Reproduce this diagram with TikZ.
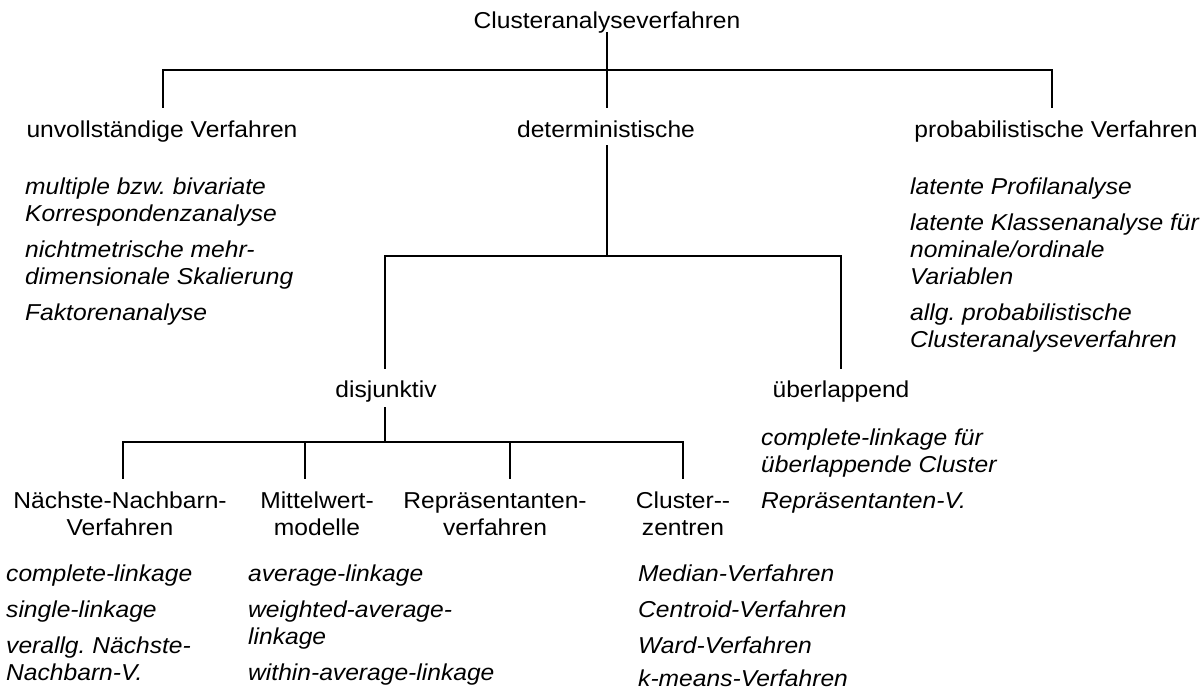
\documentclass[tikz,border=0pt]{standalone}
\usepackage{fontspec}
\setmainfont[FakeStretch=1.07]{Liberation Sans}
\newcommand{\sr}{\strut}
\frenchspacing
\begin{document}
\begin{tikzpicture}[x=1pt,y=-1pt,
  lab/.style={inner sep=0pt, font=\fontsize{23}{27}\selectfont, align=center},
  itm/.style={inner sep=0pt, font=\fontsize{23}{27}\selectfont\itshape, align=left, anchor=north west},
  conn/.style={line width=1.6pt, line cap=rect},
  thick conn/.style={line width=2.6pt}]
\useasboundingbox (0,0) rectangle (1204,691);

% --- labels
\node[lab,anchor=base] (root) at (607,28) {Clusteranalyseverfahren};
\node[lab,anchor=base] (unv)  at (162,137) {unvollständige Verfahren};
\node[lab,anchor=base] (det)  at (606,137) {deterministische};
\node[lab,anchor=base] (prob) at (1056,137) {probabilistische Verfahren};
\node[lab,anchor=base] (dis)  at (386,397) {disjunktiv};
\node[lab,anchor=base] (ueb)  at (841,397) {überlappend};

\node[lab,anchor=north] (nn) at (120,489.1) {\sr Nächste-Nachbarn-\\\sr Verfahren};
\node[lab,anchor=north] (mw) at (317,489.1) {\sr Mittelwert-\\\sr modelle};
\node[lab,anchor=north] (rp) at (495,489.1) {\sr Repräsentanten-\\\sr verfahren};
\node[lab,anchor=north] (cz) at (683,489.1) {\sr Cluster{-}{-}\\\sr zentren};

% --- items: unvollstaendige Verfahren
\node[itm] (u1) at (25,175.1) {\sr multiple bzw. bivariate\\\sr Korrespondenzanalyse};
\node[itm] (u2) at (25,238.1) {\sr nichtmetrische mehr-\\\sr dimensionale Skalierung};
\node[itm] (u3) at (25,301.1) {\sr Faktorenanalyse};

% --- items: probabilistische Verfahren
\node[itm] (p1) at (910,175.1) {\sr latente Profilanalyse};
\node[itm] (p2) at (910,211.1) {\sr latente Klassenanalyse für\\\sr nominale/ordinale\\\sr Variablen};
\node[itm] (p3) at (910,301.1) {\sr allg. probabilistische\\\sr Clusteranalyseverfahren};

% --- items: ueberlappend
\node[itm] (o1) at (761,426.1) {\sr complete-linkage für\\\sr überlappende Cluster};
\node[itm] (o2) at (761,489.1) {\sr Repräsentanten-V.};

% --- items: Naechste-Nachbarn-Verfahren
\node[itm] (n1) at (6,562.1) {\sr complete-linkage};
\node[itm] (n2) at (6,598.1) {\sr single-linkage};
\node[itm] (n3) at (6,634.1) {\sr verallg. Nächste-\\\sr Nachbarn-V.};

% --- items: Mittelwertmodelle
\node[itm] (m1) at (248,562.1) {\sr average-linkage};
\node[itm] (m2) at (248,598.1) {\sr weighted-average-\\\sr linkage};
\node[itm] (m3) at (248,661.1) {\sr within-average-linkage};

% --- items: Clusterzentren
\node[itm] (c1) at (638,562.1) {\sr Median-Verfahren};
\node[itm] (c2) at (638,598.1) {\sr Centroid-Verfahren};
\node[itm] (c3) at (638,634.1) {\sr Ward-Verfahren};
\node[itm] (c4) at (638,667.1) {\sr k-means-Verfahren};

% --- junctions
\coordinate (bus0) at (607,70);
\coordinate (e-unv) at (163,107);
\coordinate (e-det) at (607,107);
\coordinate (e-prob) at (1052,107);
\coordinate (s-det) at (607,146);
\coordinate (bus1) at (607,256);
\coordinate (e-dis) at (385,368);
\coordinate (e-ueb) at (841,368);
\coordinate (s-dis) at (385,407);
\coordinate (bus2) at (385,442);
\coordinate (e-nn) at (123,478);
\coordinate (e-mw) at (305,478);
\coordinate (e-rp) at (510,478);
\coordinate (e-cz) at (683,478);

% --- connectors
\draw[conn] (root.south) -- (e-det);
\draw[conn] (e-unv) |- (bus0) -| (e-prob);
\draw[conn] (s-det) -- (bus1);
\draw[conn] (e-dis) |- (bus1) -| (e-ueb);
\draw[thick conn] (s-dis) -- (bus2);
\draw[conn] (e-nn) |- (bus2) -| (e-cz);
\draw[conn] (e-mw |- bus2) -- (e-mw);
\draw[conn] (e-rp |- bus2) -- (e-rp);
\end{tikzpicture}
\end{document}
